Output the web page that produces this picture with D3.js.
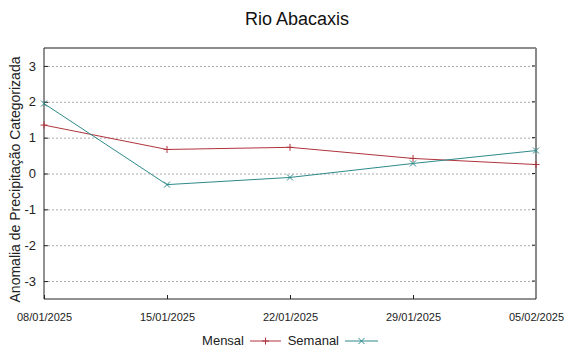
<!DOCTYPE html>
<html><head><meta charset="utf-8">
<script src="https://cdn.jsdelivr.net/npm/d3@7"></script>
<style>body{margin:0;background:#fff}svg{display:block}</style>
</head><body>
<script>
const dates = ["08/01/2025","15/01/2025","22/01/2025","29/01/2025","05/02/2025"];
const mensal = [1.35, 0.67, 0.73, 0.42, 0.25];
const semanal = [1.95, -0.31, -0.11, 0.28, 0.64];
const yTicks = [-3,-2,-1,0,1,2,3];
const title = "Rio Abacaxis";
const yTitle = "Anomalia de Precipitação Categorizada";

const W=568,H=351, L=44,R=536,T=48,B=299;
const svg=d3.select("body").append("svg").attr("width",W).attr("height",H);
const x=d3.scalePoint().domain(dates).range([L,R]);
const y=d3.scaleLinear().domain([-3.5,3.5]).range([B,T]);

// grid
svg.append("g").selectAll("line").data(yTicks).join("line")
 .attr("x1",L).attr("x2",R).attr("y1",d=>y(d)+0.5).attr("y2",d=>y(d)+0.5)
 .attr("stroke","#aaa").attr("stroke-width",1).attr("stroke-dasharray","2,2");

// y axis
const ya=svg.append("g").attr("transform",`translate(${L},0)`).call(d3.axisLeft(y).tickValues(yTicks).tickFormat(d=>String(d)).tickSize(-4).tickPadding(8));
ya.select(".domain").remove();
ya.selectAll("text").attr("font-family","Liberation Sans, Arial, sans-serif").attr("font-size",13).attr("fill","#222");
ya.selectAll("line").attr("stroke","#222");
// right ticks
svg.append("g").selectAll("line").data(yTicks).join("line")
 .attr("x1",R-4).attr("x2",R).attr("y1",d=>y(d)).attr("y2",d=>y(d)).attr("stroke","#222");

// x axis
const xa=svg.append("g").attr("transform",`translate(0,${B})`).call(d3.axisBottom(x).tickSize(-4).tickPadding(14));
xa.select(".domain").remove();
xa.selectAll("text").attr("font-family","Liberation Sans Narrow, Liberation Sans, Arial, sans-serif").attr("font-size",11).attr("fill","#222");
xa.selectAll("line").attr("stroke","#222");

// frame
svg.append("line").attr("x1",L).attr("x2",R).attr("y1",T).attr("y2",T).attr("stroke","#666").attr("stroke-width",1.5);
svg.append("line").attr("x1",R).attr("x2",R).attr("y1",T).attr("y2",B).attr("stroke","#888").attr("stroke-width",2);
svg.append("line").attr("x1",L).attr("x2",L).attr("y1",T).attr("y2",B).attr("stroke","#222").attr("stroke-width",1);
svg.append("line").attr("x1",L).attr("x2",R).attr("y1",B).attr("y2",B).attr("stroke","#222").attr("stroke-width",1);

const cM="#b0343c", cS="#2e8a8a";
const line=d3.line().x((d,i)=>x(dates[i])).y(d=>y(d));
svg.append("path").datum(mensal).attr("d",line).attr("fill","none").attr("stroke",cM).attr("stroke-width",1);
svg.append("path").datum(semanal).attr("d",line).attr("fill","none").attr("stroke",cS).attr("stroke-width",1);
// markers
const plus=(g,cx,cy,c)=>{g.append("path").attr("d",`M${cx-3.5},${cy}H${cx+3.5}M${cx},${cy-3.5}V${cy+3.5}`).attr("stroke",c).attr("stroke-width",1);};
const cross=(g,cx,cy,c)=>{g.append("path").attr("d",`M${cx-3},${cy-3}L${cx+3},${cy+3}M${cx-3},${cy+3}L${cx+3},${cy-3}`).attr("stroke",c).attr("stroke-width",1);};
const gm=svg.append("g");
mensal.forEach((v,i)=>plus(gm,x(dates[i]),y(v),cM));
semanal.forEach((v,i)=>cross(gm,x(dates[i]),y(v),cS));

// title
svg.append("text").attr("x",(L+R)/2+7).attr("y",25).attr("text-anchor","middle")
 .attr("font-family","Liberation Sans, Arial, sans-serif").attr("font-size",18).attr("fill","#111").text(title);
// y title
svg.append("text").attr("transform",`translate(20,${(T+B)/2+6}) rotate(-90)`).attr("text-anchor","middle")
 .attr("font-family","Liberation Sans, Arial, sans-serif").attr("font-size",14).attr("fill","#222").text(yTitle);

// legend
const lg=svg.append("g").attr("font-family","Liberation Sans, Arial, sans-serif").attr("font-size",13).attr("fill","#222");
lg.append("text").attr("x",244).attr("y",345).attr("text-anchor","end").text("Mensal");
lg.append("line").attr("x1",250).attr("x2",281).attr("y1",341).attr("y2",341).attr("stroke",cM);
plus(lg,265.5,341,cM);
lg.append("text").attr("x",339).attr("y",345).attr("text-anchor","end").text("Semanal");
lg.append("line").attr("x1",345).attr("x2",378).attr("y1",341).attr("y2",341).attr("stroke",cS);
cross(lg,361.5,341,cS);
</script>
</body></html>
